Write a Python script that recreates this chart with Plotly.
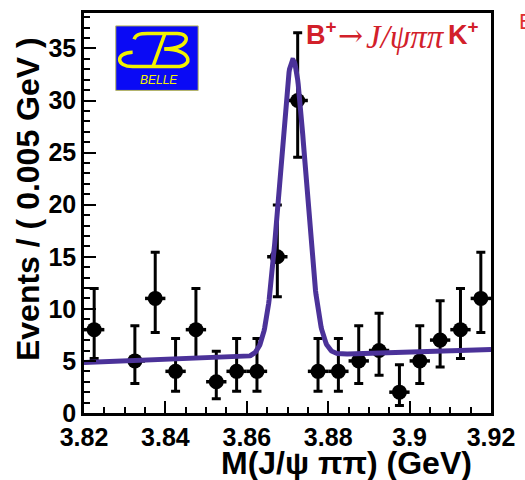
import numpy as np
import plotly.graph_objects as go

# Binned data: bin centres (GeV), event counts and Poisson (asymmetric) errors
mass = [3.8225, 3.8325, 3.8375, 3.8425, 3.8475, 3.8525, 3.8575, 3.8625,
        3.8675, 3.8725, 3.8775, 3.8825, 3.8875, 3.8925, 3.8975, 3.9025,
        3.9075, 3.9125, 3.9175]
events = [8, 5, 11, 4, 8, 3, 4, 4, 15, 30, 4, 4, 5, 6, 2, 5, 7, 8, 11]
err_hi = [3.95, 3.38, 4.44, 3.16, 3.95, 2.92, 3.16, 3.16, 4.96, 6.51, 3.16,
          3.16, 3.38, 3.58, 2.64, 3.38, 3.77, 3.95, 4.44]
err_lo = [2.77, 2.16, 3.28, 1.91, 2.77, 1.63, 1.91, 1.91, 3.83, 5.45, 1.91,
          1.91, 2.16, 2.38, 1.29, 2.16, 2.58, 2.77, 3.28]
bin_half = 0.0025

# Fit result: Gaussian signal on a linear background
fit_mean = 3.8713
fit_sigma = 0.0032
fit_peak = 28.4
bkg_at_lo = 4.85
bkg_slope = 12.5  # events per GeV

x_ticks = [3.82, 3.84, 3.86, 3.88, 3.90, 3.92]
x_ticklabels = ["3.82", "3.84", "3.86", "3.88", "3.9", "3.92"]
y_ticks = [0, 5, 10, 15, 20, 25, 30, 35]
y_ticklabels = ["0", "5", "10", "15", "20", "25", "30", "35"]

X_LO, X_HI = 3.82, 3.92
Y_LO, Y_HI = 0, 38.4

xf = np.linspace(X_LO, X_HI, 801)
yf = bkg_at_lo + bkg_slope * (xf - X_LO) + fit_peak * np.exp(-0.5 * ((xf - fit_mean) / fit_sigma) ** 2)

W, H = 525, 480
ML, MR, MT, MB = 84, 31, 10, 67
PW, PH = W - ML - MR, H - MT - MB


def px(x):
    return (x - ML) / PW


def py(y):
    return (H - MB - y) / PH


BOLD = "Liberation Sans"
RED = "#d2202a"

fig = go.Figure()

fig.add_trace(go.Scatter(
    x=mass, y=events, mode="markers",
    marker=dict(color="black", size=15, symbol="circle"),
    error_y=dict(type="data", symmetric=False, array=err_hi, arrayminus=err_lo,
                 color="black", thickness=3, width=4.5),
    error_x=dict(type="constant", value=bin_half, color="black", thickness=3.5, width=0),
    showlegend=False, hoverinfo="skip",
))

fig.add_trace(go.Scatter(
    x=xf, y=yf, mode="lines",
    line=dict(color="#4b3299", width=5),
    showlegend=False, hoverinfo="skip",
))

axis_common = dict(
    showline=True, linecolor="black", linewidth=2.5, mirror=True,
    ticks="inside", ticklen=12, tickwidth=2, tickcolor="black",
    showgrid=False, zeroline=False,
    tickfont=dict(family=BOLD, size=25, color="black", weight="bold"),
)

fig.update_xaxes(
    range=[X_LO, X_HI], tickmode="array", tickvals=x_ticks, ticktext=x_ticklabels,
    minor=dict(ticks="inside", ticklen=6, tickwidth=2, tickcolor="black",
               tickmode="linear", tick0=X_LO, dtick=0.005),
    **axis_common,
)
fig.update_yaxes(
    range=[Y_LO, Y_HI], tickmode="array", tickvals=y_ticks, ticktext=y_ticklabels,
    minor=dict(ticks="inside", ticklen=6, tickwidth=2, tickcolor="black",
               tickmode="linear", tick0=0, dtick=1),
    **axis_common,
)

shapes = []
# Belle logo: blue panel with a yellow script B
shapes.append(dict(type="rect", xref="paper", yref="paper",
                   x0=px(116), x1=px(199), y0=py(88), y1=py(23),
                   fillcolor="#0a0af5", line=dict(color="#b8b860", width=1), layer="above"))


def path(cmds):
    out = []
    for c in cmds:
        if isinstance(c, str):
            out.append(c)
        else:
            out.append(f"{px(c[0]):.5f},{py(c[1]):.5f}")
    return " ".join(out)


b_upper = path(["M", (134.5, 36.5), "C", (136, 31.5), (140, 30.7), (148, 30.7),
                "L", (178, 30.7), "C", (192, 30.7), (191, 45.5), (165, 46.3)])
b_lower = path(["M", (165, 46.3), "C", (193, 46.3), (195, 64), (177, 64), "L", (133, 64),
                "C", (116, 64), (115, 50), (133, 49.5)])
b_stem = path(["M", (165.5, 30.7), "L", (153.5, 64)])
for p in (b_upper, b_lower, b_stem):
    shapes.append(dict(type="path", xref="paper", yref="paper", path=p,
                       line=dict(color="#f2f200", width=3.5), layer="above"))


def label(text, x, y, family, size, color, xanchor="left", **kw):
    return dict(text=text, x=px(x), y=py(y), xref="paper", yref="paper",
                showarrow=False, font=dict(family=family, size=size, color=color, **kw),
                xanchor=xanchor, yanchor="middle")


annotations = [
    label("<i>BELLE</i>", 160, 78, "Liberation Sans", 12, "#f2f200", xanchor="center"),
    # decay channel: B+ -> J/psi pi pi K+
    label("<b>B</b><sup><b>+</b></sup>", 306, 30, BOLD, 27, RED),
    label("→", 338, 33, "DejaVu Serif", 30, RED),
    label("<i>J/ψππ</i>", 366, 34, "Liberation Serif", 33, RED),
    label("<b>K</b><sup><b>+</b></sup>", 449, 30, BOLD, 27, RED),
    label("B", 520, 19, BOLD, 22, "#e03030"),
    dict(text="Events / ( 0.005 GeV )", x=px(27), y=py(197), xref="paper", yref="paper",
         showarrow=False, textangle=-90,
         font=dict(family=BOLD, size=32, color="black", weight="bold"),
         xanchor="center", yanchor="middle"),
    dict(text="M(J/ψ ππ) (GeV)", x=px(348), y=py(463), xref="paper", yref="paper",
         showarrow=False,
         font=dict(family=BOLD, size=32, color="black", weight="bold"),
         xanchor="center", yanchor="middle"),
]

fig.update_layout(
    width=W, height=H,
    margin=dict(l=ML, r=MR, t=MT, b=MB, pad=0),
    paper_bgcolor="white", plot_bgcolor="white",
    shapes=shapes, annotations=annotations,
    showlegend=False,
)

fig.write_html("out.html")
